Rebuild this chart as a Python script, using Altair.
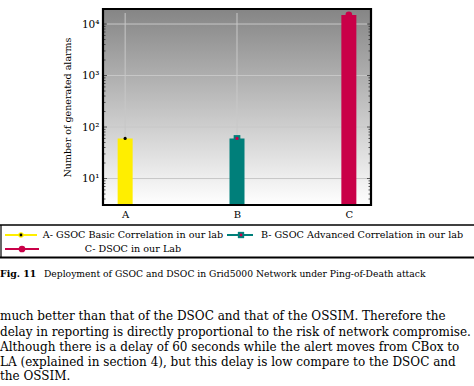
import altair as alt
import pandas as pd

# ---- data ----
categories = ["A", "B", "C"]
alarms = [60, 60, 15000]
bar_colors = ["#ffee00", "#007f7a", "#c90048"]
decades = [10, 100, 1000, 10000]
decade_labels = ["10¹", "10²", "10³", "10⁴"]
minor_ticks = [4, 5, 6, 7, 8, 9,
               20, 30, 40, 50, 60, 70, 80, 90,
               200, 300, 400, 500, 600, 700, 800, 900,
               2000, 3000, 4000, 5000, 6000, 7000, 8000, 9000]
legend_labels = ["A- GSOC Basic Correlation in our lab",
                 "B- GSOC Advanced Correlation in our lab",
                 "C- DSOC in our Lab"]
caption_bold = "Fig. 11"
caption_text = "Deployment of GSOC and DSOC in Grid5000 Network under Ping-of-Death attack"
body_lines = [
    "much better than that of the DSOC and that of the OSSIM. Therefore the",
    "delay in reporting is directly proportional to the risk of network compromise.",
    "Although there is a delay of 60 seconds while the alert moves from CBox to",
    "LA (explained in section 4), but this delay is low compare to the DSOC and",
    "the OSSIM.",
]

FONT = "DejaVu Serif"
W, H = 268, 196
OX, OY = 103, 9  # plot origin on page
YMIN, YMAX = 3.06, 19580

bars = pd.DataFrame({"cat": categories, "value": alarms, "color": bar_colors,
                     "base": [YMIN] * 3})
dec_df = pd.DataFrame({"cat": ["A"] * 4, "value": decades})
minor_df = pd.DataFrame({"cat": ["A"] * len(minor_ticks), "value": minor_ticks})
one = pd.DataFrame({"a": [0]})

yscale = alt.Scale(type="log", domain=[YMIN, YMAX])
xscale = alt.Scale(type="point", padding=0.198, domain=categories)

label_expr = " : ".join(
    f"datum.value == {d} ? '{l}'" for d, l in zip(decades, decade_labels)
) + " : ''"

x_axis = alt.Axis(labelAngle=0, ticks=False, domain=False, grid=False,
                  labelFont=FONT, labelFontSize=10, labelColor="black",
                  labelPadding=4)
y_axis = alt.Axis(values=decades, labelExpr=label_expr, ticks=False, domain=False,
                  grid=False, labelFont=FONT, labelFontSize=10.5, labelColor="black",
                  labelPadding=4, titleFont=FONT, titleFontSize=9.5,
                  titleFontWeight="normal", titleColor="black", titlePadding=9)
YT = "Number of generated alarms"


def X():
    return alt.X("cat:N", scale=xscale, title=None, axis=x_axis)


def Y():
    return alt.Y("value:Q", scale=yscale, title=YT, axis=y_axis, stack=None)


layers = []

# gradient background
grad = alt.Gradient(
    gradient="linear",
    stops=[alt.GradientStop(color="#858585", offset=0),
           alt.GradientStop(color="#ffffff", offset=1)],
    x1=0, x2=0, y1=0, y2=1,
)
layers.append(alt.Chart(one).mark_rect(fill=grad).encode(
    x=alt.value(0), x2=alt.value(W), y=alt.value(0), y2=alt.value(H)))

# grid lines
layers.append(alt.Chart(dec_df).mark_rule(color="#c8c8c8", strokeWidth=1).encode(
    y=Y(), x=alt.value(3), x2=alt.value(W - 3)))
layers.append(alt.Chart(bars).mark_rule(color="#c8c8c8", strokeWidth=1).encode(
    x=X(), y=alt.value(4), y2=alt.value(H)))

# bars (drawn as thick rules from the axis floor to the value)
layers.append(alt.Chart(bars).mark_rule(strokeWidth=15).encode(
    x=X(), y=Y(), y2=alt.Y2("base:Q"), color=alt.Color("color:N", scale=None)))

# markers on bar tops
mA = bars[bars.cat == "A"]
mB = bars[bars.cat == "B"]
mC = bars[bars.cat == "C"]
layers.append(alt.Chart(mC).mark_point(shape="circle", filled=True, size=45, color="#c90048", opacity=1).encode(
    x=X(), y=Y()))
layers.append(alt.Chart(mB).mark_point(shape="square", filled=True, size=45, color="#007f7a", opacity=1).encode(
    x=X(), y=Y()))
layers.append(alt.Chart(mB).mark_point(shape="circle", filled=True, size=10, color="#c90048", opacity=1).encode(
    x=X(), y=Y()))
layers.append(alt.Chart(mA).mark_point(shape="circle", filled=True, size=10, color="black", opacity=1).encode(
    x=X(), y=Y()))

# ticks (inside, both sides)
tick_col = "#333333"
for df, ln in ((dec_df, 4), (minor_df, 2.5)):
    layers.append(alt.Chart(df).mark_rule(color=tick_col, strokeWidth=0.8).encode(
        y=Y(), x=alt.value(0), x2=alt.value(ln)))
    layers.append(alt.Chart(df).mark_rule(color=tick_col, strokeWidth=0.8).encode(
        y=Y(), x=alt.value(W - ln), x2=alt.value(W)))

# frame
layers.append(alt.Chart(one).mark_rect(fill=None, stroke="black", strokeWidth=2.2).encode(
    x=alt.value(0), x2=alt.value(W), y=alt.value(0), y2=alt.value(H)))


def rule(x1, x2, y1, y2, color="black", sw=1.0):
    return alt.Chart(one).mark_rule(color=color, strokeWidth=sw).encode(
        x=alt.value(x1 - OX), x2=alt.value(x2 - OX), y=alt.value(y1 - OY), y2=alt.value(y2 - OY))


def dot(x, y, shape, size, color):
    return alt.Chart(one).mark_point(shape=shape, filled=True, size=size, color=color, opacity=1).encode(
        x=alt.value(x - OX), y=alt.value(y - OY))


def txt(s, x, y, size, align="left", weight="normal"):
    return alt.Chart(one).mark_text(text=s, align=align, baseline="middle", fontSize=size,
                                    font=FONT, fontWeight=weight, color="black").encode(
        x=alt.value(x - OX), y=alt.value(y - OY))


# legend box
layers.append(rule(0, 474, 225, 225, sw=1.4))
layers.append(rule(1, 1, 225, 257, sw=1.2))
layers.append(rule(0, 474, 257.5, 257.5, sw=2))
# legend entries
layers.append(rule(5, 37, 235, 235, "#ffee00", 2))
layers.append(dot(21, 235, "circle", 30, "#ffee00"))
layers.append(dot(21, 235, "circle", 8, "black"))
layers.append(txt(legend_labels[0], 133, 235, 9.6, "center"))
layers.append(rule(227, 253, 235, 235, "#007f7a", 2))
layers.append(dot(241, 235, "square", 40, "#007f7a"))
layers.append(dot(241, 235, "circle", 8, "#c90048"))
layers.append(txt(legend_labels[1], 362, 235, 9.6, "center"))
layers.append(rule(5, 39, 249, 249, "#c90048", 2))
layers.append(dot(22, 249, "circle", 45, "#c90048"))
layers.append(txt(legend_labels[2], 133, 249, 9.6, "center"))

# caption
layers.append(txt(caption_bold, 0, 273.5, 9.4, "left", "bold"))
layers.append(txt(caption_text, 44, 273.5, 9.2, "left"))

# body text
for line, yy in zip(body_lines, [316, 331.5, 346.5, 361.5, 376]):
    layers.append(txt(line, 0, yy, 12))

chart = alt.layer(*layers).properties(
    width=W, height=H,
    autosize=alt.AutoSizeParams(type="none"),
    padding={"left": OX, "top": OY, "right": 474 - OX - W, "bottom": 386 - OY - H},
    background="white",
).configure_view(stroke=None)

chart.save("out.html", embed_options={"renderer": "svg", "actions": False})
